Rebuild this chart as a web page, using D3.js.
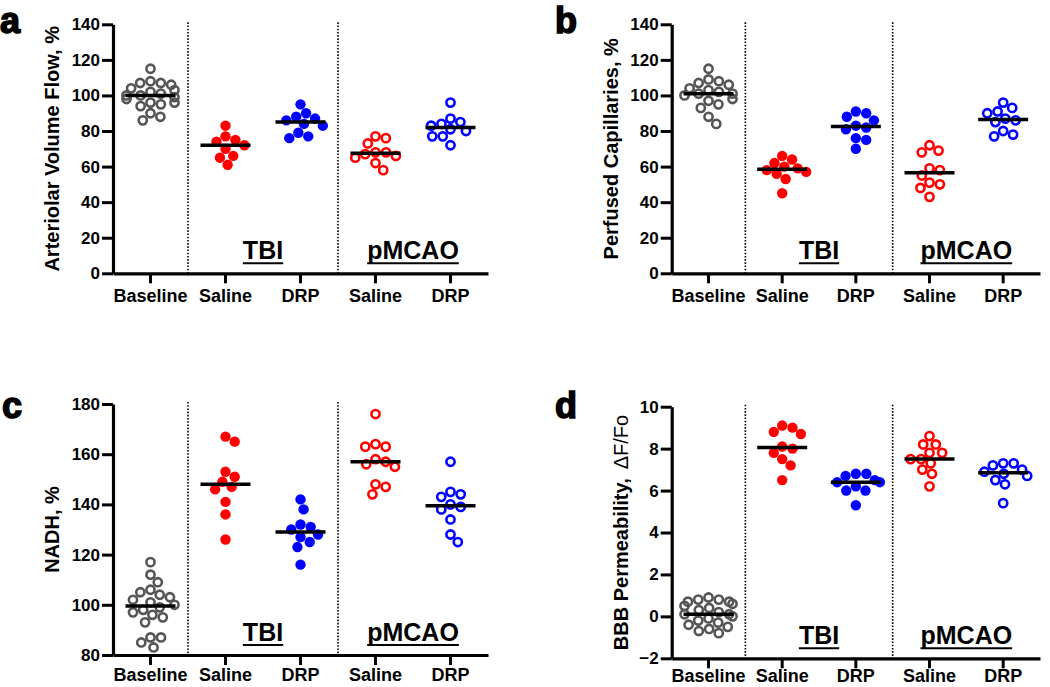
<!DOCTYPE html>
<html>
<head>
<meta charset="utf-8">
<script src="https://cdn.jsdelivr.net/npm/d3@7"></script>
<style>
  html, body { margin: 0; padding: 0; background: #fff; }
  svg { display: block; }
  text { font-family: "Liberation Sans", Arial, sans-serif; font-weight: bold; fill: #000; }
</style>
</head>
<body>
<svg id="chart" width="1050" height="687"></svg>
<script>
// ---------- data ----------
const categories = ["Baseline", "TBI Saline", "TBI DRP", "pMCAO Saline", "pMCAO DRP"];
const tickLabels = ["Baseline", "Saline", "DRP", "Saline", "DRP"];
const groupLabels = ["TBI", "pMCAO"];

// panel a: Arteriolar Volume Flow, %
const aBaseline = [115, 108, 107, 107, 106, 104, 103, 102, 101, 100, 100, 99, 98, 96, 96, 95, 94, 90, 88, 86];
const aTBISaline = [83, 77, 75, 74, 72, 70, 66, 65, 61];
const aTBIDRP = [95, 90, 88, 87, 86, 84, 83, 79, 77, 76];
const aMCAOSaline = [77, 76, 73, 68, 68, 67, 66, 65, 62, 58];
const aMCAODRP = [96, 87, 85, 84, 83, 81, 80, 77, 77, 72];
const aTicks = [0, 20, 40, 60, 80, 100, 120, 140];

// panel b: Perfused Capillaries, %
const bBaseline = [115, 109, 108, 107, 106, 104, 103, 102, 101, 101, 100, 98, 97, 95, 93, 88, 84];
const bTBISaline = [66, 64, 62, 60, 59, 58, 57, 56, 53, 45];
const bTBIDRP = [91, 90, 88, 86, 83, 82, 81, 76, 75, 70];
const bMCAOSaline = [72, 69, 68, 59, 58, 55, 51, 50, 48, 43];
const bMCAODRP = [96, 93, 91, 90, 87, 86, 85, 80, 78, 77];
const bTicks = [0, 20, 40, 60, 80, 100, 120, 140];

// panel c: NADH, %
const cBaseline = [117, 112, 109, 106, 105, 104, 103, 102, 101, 100, 99, 98, 97, 96, 95, 93, 87, 87, 85, 83];
const cTBISaline = [167, 165, 153, 151, 149, 147, 146, 141, 136, 126];
const cTBIDRP = [142, 138, 132, 131, 130, 128, 127, 125, 123, 116];
const cMCAOSaline = [176, 164, 163, 163, 158, 157, 156, 155, 148, 147, 144];
const cMCAODRP = [157, 145, 144, 143, 140, 139, 138, 134, 128, 125];
const cTicks = [80, 100, 120, 140, 160, 180];

// panel d: BBB Permeability, dF/Fo
const dBaseline = [0.9, 0.8, 0.8, 0.7, 0.7, 0.6, 0.5, 0.4, 0.3, 0.2, 0.1, 0.1, 0.0, -0.1, -0.2, -0.3, -0.4, -0.5, -0.6, -0.7, -0.8];
const dTBISaline = [9.1, 9.0, 8.8, 8.7, 8.1, 8.0, 7.8, 7.5, 7.2, 6.5];
const dTBIDRP = [6.8, 6.8, 6.7, 6.5, 6.4, 6.4, 6.2, 6.0, 6.0, 5.3];
const dMCAOSaline = [8.6, 8.2, 8.2, 7.8, 7.8, 7.5, 7.5, 7.3, 7.0, 6.8, 6.2];
const dMCAODRP = [7.3, 7.3, 7.2, 7.0, 6.9, 6.8, 6.7, 6.5, 6.3, 5.4];
const dTicks = [-2, 0, 2, 4, 6, 8, 10];

// ---------- styling / layout ----------
const GRAY = "#555555", RED = "#ff0000", BLUE = "#0000ff";
const groupStyle = [
  { color: GRAY, filled: false },
  { color: RED, filled: true },
  { color: BLUE, filled: true },
  { color: RED, filled: false },
  { color: BLUE, filled: false }
];

const panels = [
  { letter: "a", letterXY: [0, 33], series: [aBaseline, aTBISaline, aTBIDRP, aMCAOSaline, aMCAODRP],
    ticks: aTicks, xRange: [113, 488], yRange: [273.3, 24.3], yLabel: "Arteriolar Volume Flow, %", yLabelX: 59, xPad: 6 },
  { letter: "b", letterXY: [555, 33], series: [bBaseline, bTBISaline, bTBIDRP, bMCAOSaline, bMCAODRP],
    ticks: bTicks, xRange: [671.7, 1040], yRange: [273.3, 24.3], yLabel: "Perfused Capillaries, %", yLabelX: 618, xPad: 6 },
  { letter: "c", letterXY: [2, 418], series: [cBaseline, cTBISaline, cTBIDRP, cMCAOSaline, cMCAODRP],
    ticks: cTicks, xRange: [113, 488], yRange: [655, 404], yLabel: "NADH, %", yLabelX: 59, xPad: 3 },
  { letter: "d", letterXY: [555, 418], series: [dBaseline, dTBISaline, dTBIDRP, dMCAOSaline, dMCAODRP],
    ticks: dTicks, xRange: [671.7, 1040], yRange: [658.3, 406.7], yLabel: "BBB Permeability,", yLabelExtra: "ΔF/Fo", yLabelX: 628, xPad: 1 }
];

// deterministic beeswarm offsets
function swarmOffsets(ys, minDist, maxOff) {
  const idx = d3.range(ys.length).sort((i, j) => ys[i] - ys[j]);
  const xs = new Array(ys.length);
  const placed = [];
  for (const i of idx) {
    const y = ys[i];
    const intervals = [];
    for (const p of placed) {
      const dy = Math.abs(p.y - y);
      if (dy < minDist) {
        const dx = Math.sqrt(minDist * minDist - dy * dy);
        intervals.push([p.x - dx, p.x + dx]);
      }
    }
    const cands = [0];
    intervals.forEach(([l, r]) => cands.push(l, r));
    cands.sort((a, b) => (Math.abs(a) - Math.abs(b)) || (b - a));
    let x = cands.find(c => intervals.every(([l, r]) => c <= l + 1e-6 || c >= r - 1e-6));
    if (x === undefined) x = 0;
    if (Math.abs(x) > maxOff) x = Math.sign(x) * maxOff;
    xs[i] = x;
    placed.push({ x, y });
  }
  return xs;
}

const svg = d3.select("#chart");

panels.forEach(P => {
  const g = svg.append("g");
  const x = d3.scaleBand().domain(categories).range(P.xRange).paddingInner(0).paddingOuter(0);
  const y = d3.scaleLinear().domain([P.ticks[0], P.ticks[P.ticks.length - 1]]).range(P.yRange);
  const axisY = P.yRange[0];

  // dotted separators
  [1, 3].forEach(k => {
    const sx = x(categories[k]);
    g.append("line")
      .attr("x1", sx).attr("x2", sx)
      .attr("y1", P.yRange[1] - 2).attr("y2", axisY)
      .attr("stroke", "#000").attr("stroke-width", 1.6)
      .attr("stroke-dasharray", "1.6,1.6");
  });

  // y axis
  const yAxis = g.append("g")
    .attr("transform", `translate(${P.xRange[0]},0)`)
    .call(d3.axisLeft(y).tickValues(P.ticks).tickSize(11).tickSizeOuter(0).tickPadding(2).tickFormat(d3.format("d")));
  yAxis.select(".domain").attr("stroke", "#000").attr("stroke-width", 3.2);
  yAxis.selectAll(".tick line").attr("stroke", "#000").attr("stroke-width", 3);
  yAxis.selectAll(".tick text").attr("font-size", 17).attr("font-weight", "bold")
    .attr("font-family", '"Liberation Sans", Arial, sans-serif');

  // x axis
  const xAxis = g.append("g")
    .attr("transform", `translate(0,${axisY})`)
    .call(d3.axisBottom(x).tickSize(10).tickSizeOuter(0).tickPadding(P.xPad).tickFormat((d, i) => tickLabels[i]));
  xAxis.select(".domain").attr("stroke", "#000").attr("stroke-width", 3.2);
  xAxis.selectAll(".tick line").attr("stroke", "#000").attr("stroke-width", 3);
  xAxis.selectAll(".tick text").attr("font-size", 18).attr("font-weight", "bold")
    .attr("font-family", '"Liberation Sans", Arial, sans-serif');

  // y label
  const yl = g.append("text")
    .attr("transform", `translate(${P.yLabelX},${(P.yRange[0] + P.yRange[1]) / 2}) rotate(-90)`)
    .attr("text-anchor", "middle")
    .attr("font-size", 20)
    .text(P.yLabel);
  if (P.yLabelExtra) {
    yl.append("tspan").attr("dx", 9).attr("font-weight", "normal").text(P.yLabelExtra);
  }

  // panel letter
  g.append("text")
    .attr("x", P.letterXY[0]).attr("y", P.letterXY[1])
    .attr("font-size", 36)
    .attr("stroke", "#000").attr("stroke-width", 1.6)
    .text(P.letter);

  // group labels with underline
  [[1, 2], [3, 4]].forEach((pair, gi) => {
    const cx = (x(categories[pair[0]]) + x(categories[pair[1]]) + x.bandwidth()) / 2;
    const ty = axisY - 14;
    const t = g.append("text")
      .attr("x", cx).attr("y", ty)
      .attr("text-anchor", "middle")
      .attr("font-size", 25)
      .text(groupLabels[gi]);
    const w = t.node().getComputedTextLength();
    g.append("line")
      .attr("x1", cx - w / 2).attr("x2", cx + w / 2)
      .attr("y1", ty + 4).attr("y2", ty + 4)
      .attr("stroke", "#000").attr("stroke-width", 2);
  });

  // points
  P.series.forEach((vals, si) => {
    const st = groupStyle[si];
    const cx = x(categories[si]) + x.bandwidth() / 2;
    const ys = vals.map(v => y(v));
    const offs = swarmOffsets(ys, 10.5, 24);
    const pts = vals.map((v, i) => ({ v, px: cx + offs[i], py: ys[i] }));
    g.append("g").selectAll("circle").data(pts).join("circle")
      .attr("cx", d => d.px).attr("cy", d => d.py)
      .attr("r", st.filled ? 5.2 : 4.1)
      .attr("fill", st.filled ? st.color : "none")
      .attr("stroke", st.filled ? "none" : st.color)
      .attr("stroke-width", st.filled ? 0 : 2.6);

    // median line
    const med = d3.median(vals);
    g.append("line")
      .attr("x1", cx - 25).attr("x2", cx + 25)
      .attr("y1", y(med)).attr("y2", y(med))
      .attr("stroke", "#000").attr("stroke-width", 3.5);
  });
});
</script>
</body>
</html>
